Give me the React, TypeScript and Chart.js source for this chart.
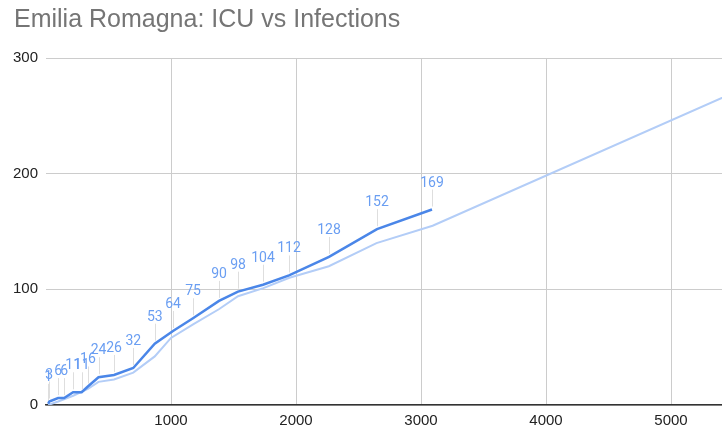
import React, { useEffect, useRef } from "react";
import { Chart, registerables } from "chart.js";

Chart.register(...registerables);

const titleText = "Emilia Romagna: ICU vs Infections";
const infections = [18, 26, 97, 145, 217, 285, 335, 420, 544, 698, 870, 1016, 1176, 1384, 1536, 1736, 1944, 2264, 2648, 3088];
const icu = [1, 3, 6, 6, 11, 11, 16, 24, 26, 32, 53, 64, 75, 90, 98, 104, 112, 128, 152, 169];
const trendX = [18, 97, 217, 335, 420, 544, 698, 870, 1000, 1180, 1386, 1536, 1739, 1947, 2263, 2644, 3093, 5500];
const trendY = [0, 3, 8, 14, 20, 22, 28, 42, 58, 70, 83, 94, 101, 110, 120, 140, 155, 270];
const xTicks = [1000, 2000, 3000, 4000, 5000];
const yTicks = [0, 100, 200, 300];

const FONT = "Roboto, 'Liberation Sans', Arial, sans-serif";
const AFONT = "'Liberation Sans', Arial, sans-serif";

export default function App() {
  const ref = useRef<HTMLCanvasElement>(null);
  useEffect(() => {
    document.body.style.margin = "0";
    const canvas = ref.current!;
    const titlePlugin = {
      id: "titleP",
      afterDraw(chart: any) {
        const ctx = chart.ctx;
        ctx.save();
        ctx.font = `25px ${AFONT}`;
        ctx.fillStyle = "#757575";
        ctx.textBaseline = "alphabetic";
        ctx.textAlign = "left";
        ctx.fillText(titleText, 14, 27);
        ctx.restore();
      },
    };
    const labelPlugin = {
      id: "labelsP",
      afterDatasetsDraw(chart: any) {
        const ctx = chart.ctx;
        const meta = chart.getDatasetMeta(0);
        ctx.save();
        ctx.font = `14px ${FONT}`;
        ctx.textAlign = "center";
        ctx.textBaseline = "alphabetic";
        meta.data.forEach((pt: any, i: number) => {
          const x = pt.x;
          const y = pt.y;
          const labelBase = y - 23;
          ctx.strokeStyle = "rgba(200,200,200,0.6)";
          ctx.lineWidth = 1;
          ctx.beginPath();
          ctx.moveTo(Math.round(x) + 0.5, labelBase + 3);
          ctx.lineTo(Math.round(x) + 0.5, y - 3);
          ctx.stroke();
          ctx.fillStyle = "#6a9ef2";
          ctx.fillText(String(icu[i]), x, labelBase);
        });
        ctx.restore();
      },
    };
    const chart = new Chart(canvas, {
      type: "line",
      data: {
        datasets: [
          {
            data: infections.map((x, i) => ({ x, y: icu[i] })),
            borderColor: "#4a86e8",
            borderWidth: 2.5,
            pointRadius: 0,
            tension: 0,
          },
          {
            data: trendX.map((x, i) => ({ x, y: trendY[i] })),
            borderColor: "#b3cdf7",
            borderWidth: 2,
            pointRadius: 0,
            tension: 0,
          },
        ],
      },
      options: {
        animation: false,
        responsive: false,
        maintainAspectRatio: false,
        layout: { padding: { top: 58, right: 0, left: 0, bottom: 0 } },
        plugins: { legend: { display: false }, tooltip: { enabled: false }, title: { display: false } },
        scales: {
          x: {
            type: "linear",
            min: 0,
            max: 5408,
            afterBuildTicks: (s: any) => {
              s.ticks = xTicks.map((v) => ({ value: v }));
            },
            afterFit: (s: any) => {
              s.height = 27;
            },
            grid: { color: "#cccccc", drawTicks: false },
            border: { display: true, color: "#333333", width: 1.5 },
            ticks: {
              padding: 7,
              color: "#222222",
              font: { family: AFONT, size: 15 },
              maxRotation: 0,
              callback: (v: any) => String(v),
            },
          },
          y: {
            type: "linear",
            min: 0,
            max: 300,
            afterBuildTicks: (s: any) => {
              s.ticks = yTicks.map((v) => ({ value: v }));
            },
            afterFit: (s: any) => {
              s.width = 46;
            },
            grid: { color: "#cccccc", drawTicks: false },
            border: { display: false },
            ticks: { padding: 8, color: "#222222", font: { family: AFONT, size: 15 }, callback: (v: any) => String(v) },
          },
        },
      },
      plugins: [titlePlugin, labelPlugin],
    } as any);
    return () => chart.destroy();
  }, []);
  return <canvas ref={ref} width={722} height={432} style={{ display: "block" }} />;
}
